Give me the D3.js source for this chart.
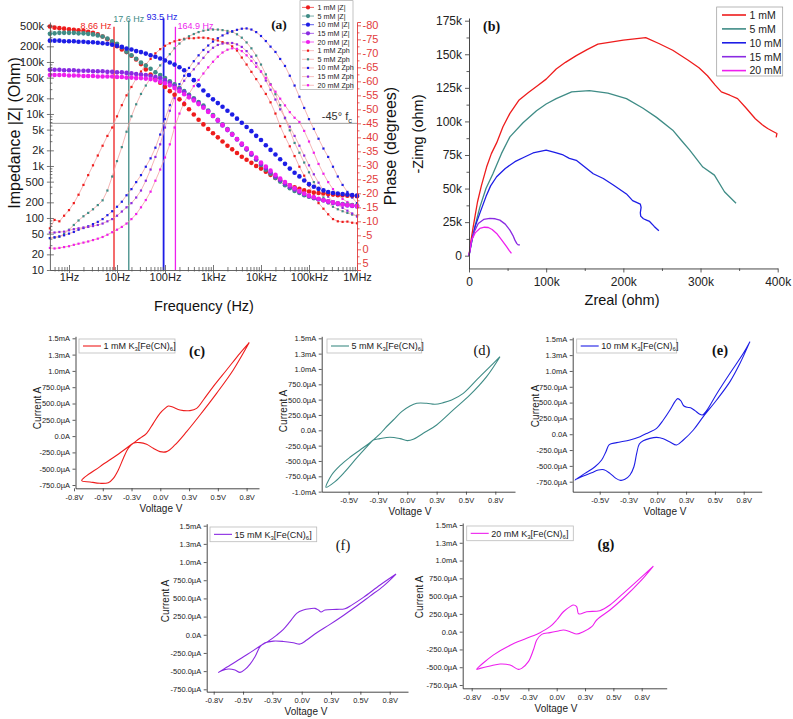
<!DOCTYPE html>
<html><head><meta charset="utf-8">
<script src="https://cdn.jsdelivr.net/npm/d3@7"></script>
<style>html,body{margin:0;padding:0;background:#fff}svg{display:block}</style>
</head><body>
<svg id="fig" width="793" height="719" xmlns="http://www.w3.org/2000/svg"></svg>
<script>
// ================= DATA =================
const concLabels = ["1 mM", "5 mM", "10 mM", "15 mM", "20 mM"];

// ---- (a) Bode plot ----
const freqHz = [0.4,0.5,0.63,0.79,
 1,1.26,1.58,2,2.51,3.16,3.98,5.01,6.31,7.94,
 10,12.6,15.8,20,25.1,31.6,39.8,50.1,63.1,79.4,
 100,126,158,200,251,316,398,501,631,794,
 1000,1260,1580,2000,2510,3160,3980,5010,6310,7940,
 10000,12600,15800,20000,25100,31600,39800,50100,63100,79400,
 100000,126000,158000,200000,251000,316000,398000,501000,631000,794000,
 1000000];

const zMag1mM = [480000,457000,447000,437000,427000,417000,407000,398000,380000,363000,
 339000,309000,275000,240000,200000,174000,155000,132000,112000,91000,
 72000,57500,47900,39800,33100,27500,23400,19100,15500,12300,
 9770,7760,6310,5130,4270,3550,2950,2450,2090,1780,
 1510,1320,1150,1000,891,776,676,589,525,468,
 427,389,363,339,324,309,302,295,288,282,
 275,275,269,269,263];
const zMag5mM = [347000,355000,363000,363000,363000,363000,355000,355000,347000,339000,
 324000,309000,282000,251000,224000,191000,158000,135000,115000,97700,
 85100,74100,63100,56200,49000,42700,37200,31600,27500,23400,
 20000,17000,14500,11700,9550,7760,6310,5130,4170,3310,
 2630,2090,1660,1320,1050,851,708,589,501,427,
 372,331,302,275,257,240,229,219,209,200,
 191,186,182,178,174];
const zMag10mM = [257000,257000,257000,251000,251000,251000,245000,245000,240000,240000,
 234000,229000,224000,214000,204000,195000,182000,174000,162000,155000,
 145000,135000,126000,117000,107000,97700,89100,79400,69200,56200,
 44700,35500,28200,22900,19100,16200,13800,11500,9770,8130,
 6760,5620,4680,3800,3160,2510,2040,1660,1350,1100,
 891,741,631,525,447,398,363,339,316,302,
 295,288,282,275,269];
const zMag15mM = [70800,70800,70800,69200,69200,69200,67600,67600,67600,66100,
 66100,66100,64600,64600,63100,63100,61700,60300,58900,57500,
 56200,53700,51300,49000,44700,39800,34700,30200,26300,22400,
 19100,16200,13800,11200,9120,7410,6030,4900,3980,3240,
 2570,2090,1660,1350,1100,912,759,631,537,457,
 398,355,316,288,263,245,229,219,204,195,
 186,182,174,170,166];
const zMag20mM = [56200,56200,56200,56200,55000,55000,55000,53700,53700,53700,
 52500,52500,52500,52500,51300,51300,50100,50100,49000,49000,
 47900,46800,44700,41700,38900,35500,31600,27500,24000,20900,
 18200,15500,13200,11000,9120,7590,6170,5010,4070,3310,
 2690,2190,1780,1450,1170,977,813,676,575,490,
 427,372,331,295,269,251,234,219,209,200,
 191,182,178,174,170];

const zPh1mM = [-7.5,-10.5,-10,-12,-14,-16.5,-19.5,-23,-26.5,-30,
 -33.5,-37,-40.5,-43.5,-47.5,-51.5,-55,-58,-61,-63.5,
 -66,-68,-70,-71.5,-72.7,-73.6,-74.3,-74.8,-75.2,-75.4,
 -75.4,-75.6,-75.6,-75.4,-75,-74.6,-74,-73.6,-72.5,-71,
 -68.5,-66,-63.4,-60.8,-58.2,-55.5,-52.5,-48.5,-44,-40.2,
 -36.8,-33.3,-29.5,-26.3,-22.8,-19.2,-16.5,-14.5,-12.5,-10.8,
 -10,-9.8,-9.9,-9.5,-9.3];
const zPh5mM = [-4,-4.2,-4.5,-5.5,-7,-8.7,-10.3,-11.8,-13,-14.3,
 -15.8,-17.5,-21,-26,-31.5,-36.5,-42,-47.5,-51.8,-55.5,
 -58.5,-61.2,-63.5,-65.7,-67.7,-69.7,-71.8,-73.5,-75,-76.1,
 -76.9,-77.6,-78.1,-78.4,-78.5,-78.5,-78.3,-78,-77.7,-76.8,
 -75.6,-73.9,-71.8,-69.2,-66,-62.5,-59,-55.4,-51.5,-46.8,
 -42.5,-38,-34.5,-31,-27.5,-24,-21,-18.5,-16.4,-15.2,
 -14.3,-13.6,-13,-12.4,-12];
const zPh10mM = [-4,-4.3,-4.6,-5,-5.6,-6.2,-7,-7.6,-8.2,-9,
 -9.8,-10.8,-12.2,-13.6,-15.2,-17,-19.3,-21.5,-24,-26.5,
 -29.5,-32.5,-36.3,-41,-46.5,-51.5,-55.5,-59,-62,-64.8,
 -67.2,-69.3,-71.2,-72.8,-74.2,-75.4,-76.4,-77.2,-77.9,-78.4,
 -78.8,-78.9,-78.5,-77.6,-76.2,-74.4,-72.4,-70.5,-68,-65.5,
 -62,-58.5,-54.5,-50.5,-46.5,-43,-39.5,-36,-33,-29.5,
 -26,-23,-20.5,-18.5,-16.5];
const zPh15mM = [-6,-6,-6.2,-6.3,-6.8,-7.2,-7.5,-7.8,-8,-8.3,
 -8.7,-9.2,-10,-10.8,-12,-13.5,-15,-16.5,-18.5,-21,
 -24.5,-28.5,-33,-37.5,-43.5,-49.5,-54,-57.5,-60.2,-62.5,
 -64.3,-66.4,-68.4,-70.5,-72,-73,-73.5,-73.7,-73.7,-73.2,
 -72.3,-70.8,-68.8,-66.5,-63.5,-60.3,-57,-53.5,-50,-47,
 -43.8,-40.5,-37,-33.5,-30,-26.8,-23.8,-21,-18.8,-17,
 -15.8,-14.8,-13.8,-12.8,-11.7];
const zPh20mM = [-0.5,-0.3,-0.5,-0.8,-1.1,-1.6,-2,-2.4,-2.8,-3.3,
 -3.8,-4.4,-5.2,-6.1,-7,-8,-9.2,-10.8,-12.6,-15,
 -17.6,-20.6,-24.5,-28.5,-32.8,-37.5,-43.5,-48.5,-52.5,-55.5,
 -58.3,-60.5,-62.8,-65,-67,-68.8,-70.3,-71.3,-71.8,-71.6,
 -70.8,-69.3,-67.3,-65.2,-63.5,-61.2,-58.8,-56.3,-53.8,-51.4,
 -49,-47,-45.5,-42.3,-38.5,-34.5,-30.5,-27,-24,-21.5,
 -19.5,-18,-16.9,-16,-15.2];

const fcHz = [8.66, 17.6, 93.5, 164.9];
const fcLabels = ["8.66 Hz", "17.6 Hz", "93.5 Hz", "164.9 Hz"];
const fcPhaseDeg = -45;

const freqTickValues = [1, 10, 100, 1000, 10000, 100000, 1000000];
const freqTickLabels = ["1Hz", "10Hz", "100Hz", "1kHz", "10kHz", "100kHz", "1MHz"];
const zTickValues = [10,20,50,100,200,500,1000,2000,5000,10000,20000,50000,100000,200000,500000];
const zTickLabels = ["10","20","50","100","200","500","1k","2k","5k","10k","20k","50k","100k","200k","500k"];
const phaseTickValues = [5,0,-5,-10,-15,-20,-25,-30,-35,-40,-45,-50,-55,-60,-65,-70,-75,-80];

// ---- (b) Nyquist plot: [Zreal (ohm), -Zimg (ohm)] ----
const nyquist1mM = [[0,0],[2200,10000],[5000,20000],[8000,30000],[11000,40000],[16000,52000],[22800,66000],[29000,76000],[35800,84000],[44000,96000],[53000,106000],[65000,116000],[77000,121500],[89600,127000],[100000,131500],[113000,139000],[125000,144000],[139000,149000],[153000,153500],[167000,157500],[200000,160500],[229000,162400],[246000,158000],[264000,153000],[284000,145600],[298000,140000],[309000,134000],[319000,127000],[327000,122000],[338000,119500],[348000,117000],[359000,110000],[371000,102000],[380000,97500],[387000,94700],[394000,92500],[399000,91000],[398000,88200]];
const nyquist5mM = [[0,0],[5000,15000],[10000,27000],[14000,36000],[22000,50000],[31000,61000],[42000,76000],[53000,88500],[70000,99000],[87500,108000],[100000,113000],[113000,117000],[133000,122000],[156000,123000],[180000,121000],[204000,117000],[225000,110000],[243000,103000],[264000,93500],[275000,86000],[286000,78600],[303000,66000],[318000,60000],[331000,47600],[346000,39000]];
const nyquist10mM = [[0,0],[4000,12000],[8000,22000],[14000,31500],[22000,44000],[28000,52000],[35800,58800],[47000,65000],[59500,70000],[72000,73500],[83000,76500],[100000,78600],[111000,77000],[122000,75000],[130000,72500],[139000,71000],[150000,66000],[161000,61000],[174000,57500],[187000,52600],[204000,46000],[212000,41000],[222000,38400],[223000,36000],[222000,32000],[222500,29500],[226000,27500],[230000,26500],[234000,25500],[240000,21800],[246000,18600]];
const nyquist15mM = [[0,0],[3400,11600],[7000,18000],[12000,24000],[19000,27000],[27000,27800],[34000,27500],[40000,26500],[47000,23500],[53000,19000],[57000,15000],[59500,11600],[62000,9000],[64000,8000],[66000,8000]];
const nyquist20mM = [[0,0],[3400,11600],[8000,17000],[14000,20300],[20000,21200],[25000,21000],[30000,19500],[35800,16600],[42000,12000],[48700,6700],[52000,4000],[55000,1700]];
const zRealTicks = [0, 100000, 200000, 300000, 400000];
const zRealTickLabels = ["0", "100k", "200k", "300k", "400k"];
const zImgTicks = [0, 25000, 50000, 75000, 100000, 125000, 150000, 175000];
const zImgTickLabels = ["0", "25k", "50k", "75k", "100k", "125k", "150k", "175k"];

// ---- (c)-(g) cyclic voltammograms: [Voltage (V), Current (mA)] ----
const cv1mM = [[0.773,1.434],[0.634,1.014],[0.489,0.656],[0.345,0.324],[0.229,0.069],[0.127,-0.136],[0.055,-0.238],[-0.003,-0.238],[-0.061,-0.187],[-0.119,-0.126],[-0.177,-0.100],[-0.235,-0.110],[-0.278,-0.187],[-0.321,-0.340],[-0.365,-0.519],[-0.408,-0.647],[-0.452,-0.714],[-0.524,-0.724],[-0.611,-0.703],[-0.683,-0.683],[-0.524,-0.468],[-0.379,-0.294],[-0.249,-0.126],[-0.177,-0.034],[-0.119,0.043],[-0.061,0.196],[-0.003,0.350],[0.041,0.426],[0.070,0.462],[0.113,0.442],[0.171,0.401],[0.258,0.391],[0.316,0.426],[0.374,0.554],[0.460,0.759],[0.576,1.014],[0.692,1.270],[0.773,1.434]];
const cv5mM = [[0.79,1.20],[0.676,0.875],[0.534,0.576],[0.392,0.332],[0.25,0.087],[0.136,-0.049],[0.051,-0.147],[0,-0.168],[-0.063,-0.136],[-0.148,-0.114],[-0.233,-0.136],[-0.29,-0.158],[-0.318,-0.212],[-0.375,-0.332],[-0.446,-0.484],[-0.531,-0.674],[-0.616,-0.837],[-0.693,-0.929],[-0.645,-0.728],[-0.574,-0.576],[-0.489,-0.44],[-0.403,-0.321],[-0.332,-0.223],[-0.29,-0.158],[-0.233,-0.06],[-0.19,0.033],[-0.119,0.168],[-0.048,0.304],[0.023,0.397],[0.08,0.44],[0.165,0.44],[0.236,0.424],[0.307,0.451],[0.378,0.495],[0.477,0.603],[0.591,0.821],[0.705,1.038],[0.79,1.20]];
const cv10mM = [[0.804,1.463],[0.718,1.121],[0.631,0.831],[0.515,0.541],[0.399,0.278],[0.313,0.067],[0.226,-0.091],[0.168,-0.170],[0.110,-0.123],[0.052,-0.070],[-0.006,-0.049],[-0.064,-0.065],[-0.122,-0.102],[-0.156,-0.154],[-0.179,-0.302],[-0.203,-0.513],[-0.237,-0.644],[-0.281,-0.713],[-0.318,-0.729],[-0.359,-0.697],[-0.411,-0.618],[-0.463,-0.560],[-0.512,-0.565],[-0.570,-0.608],[-0.642,-0.660],[-0.706,-0.713],[-0.715,-0.723],[-0.628,-0.618],[-0.541,-0.513],[-0.483,-0.407],[-0.446,-0.276],[-0.417,-0.165],[-0.353,-0.133],[-0.237,-0.091],[-0.150,-0.038],[-0.078,0.025],[-0.006,0.093],[0.052,0.225],[0.110,0.383],[0.153,0.515],[0.177,0.562],[0.203,0.531],[0.231,0.446],[0.260,0.425],[0.289,0.420],[0.327,0.373],[0.365,0.320],[0.391,0.304],[0.428,0.373],[0.515,0.636],[0.631,0.963],[0.747,1.279],[0.804,1.463]];
const cv15mM = [[0.804,0.835],[0.696,0.67],[0.582,0.532],[0.469,0.395],[0.355,0.266],[0.241,0.143],[0.128,0.028],[0.043,-0.073],[-0.014,-0.128],[-0.071,-0.11],[-0.156,-0.092],[-0.241,-0.087],[-0.313,-0.11],[-0.355,-0.165],[-0.398,-0.302],[-0.44,-0.403],[-0.483,-0.476],[-0.526,-0.517],[-0.568,-0.485],[-0.625,-0.471],[-0.682,-0.494],[-0.71,-0.517],[-0.611,-0.42],[-0.526,-0.333],[-0.44,-0.246],[-0.355,-0.155],[-0.284,-0.087],[-0.213,-0.004],[-0.156,0.074],[-0.1,0.18],[-0.043,0.295],[0.014,0.34],[0.071,0.358],[0.114,0.363],[0.142,0.34],[0.165,0.313],[0.199,0.34],[0.298,0.349],[0.369,0.358],[0.426,0.408],[0.526,0.514],[0.668,0.684],[0.804,0.835]];
const cv20mM = [[0.853,0.923],[0.735,0.703],[0.588,0.47],[0.47,0.305],[0.353,0.164],[0.309,0.07],[0.235,0.0],[0.176,-0.033],[0.118,0.0],[0.059,0.023],[0.015,0.01],[-0.059,-0.014],[-0.132,-0.038],[-0.176,-0.117],[-0.206,-0.258],[-0.25,-0.422],[-0.309,-0.516],[-0.338,-0.53],[-0.412,-0.469],[-0.5,-0.455],[-0.588,-0.483],[-0.676,-0.516],[-0.706,-0.53],[-0.56,-0.33],[-0.41,-0.19],[-0.265,-0.094],[-0.147,-0.014],[-0.059,0.07],[0,0.164],[0.059,0.28],[0.118,0.352],[0.147,0.375],[0.176,0.352],[0.19,0.258],[0.206,0.248],[0.265,0.28],[0.38,0.295],[0.47,0.375],[0.588,0.539],[0.735,0.75],[0.853,0.923]];
const voltTickValues = [-0.75, -0.5, -0.25, 0, 0.25, 0.5, 0.75];
const voltTickLabels = ["-0.8V", "-0.5V", "-0.3V", "0.0V", "0.3V", "0.5V", "0.8V"];
const currTickValues = [-1.0, -0.75, -0.5, -0.25, 0, 0.25, 0.5, 0.75, 1.0, 1.25, 1.5];
const currTickLabels = ["-1.0mA", "-750.0µA", "-500.0µA", "-250.0µA", "0.0A", "250.0µA", "500.0µA", "750.0µA", "1.0mA", "1.3mA", "1.5mA"];

// ================= RENDER =================
const SANS = '"Liberation Sans", Arial, Helvetica, sans-serif';
const SERIF = '"Liberation Serif", "Times New Roman", Times, serif';
const colors = ["#ee1c1c", "#3f8c86", "#1d1de6", "#8a2be2", "#ee1fee"];
const phaseLine = "#f3a2a2";
const svg = d3.select("#fig");
svg.append("rect").attr("width", 793).attr("height", 719).attr("fill", "#fff");

function styleAxis(sel, color, size, textColor) {
  sel.attr("font-family", SANS).attr("font-size", size);
  sel.select(".domain").attr("stroke", color).attr("stroke-width", 0.9);
  sel.selectAll(".tick line").attr("stroke", color).attr("stroke-width", 0.8);
  sel.selectAll(".tick text").attr("fill", textColor || "#222");
}
function minorAxis(g, axis, color, transform) {
  const s = g.append("g").attr("transform", transform).call(axis);
  s.select(".domain").remove();
  s.selectAll(".tick line").attr("stroke", color).attr("stroke-width", 0.8);
  s.selectAll(".tick text").remove();
}

// ---------- Panel (a) ----------
(function panelA() {
  const g = svg.append("g");
  const x = d3.scaleLog().domain([0.4, 1e6]).range([49.9, 357]);
  const yZ = d3.scaleLog().domain([10, 587000]).range([270, 22]);
  const yP = d3.scaleLinear().domain([7.39, -81.2]).range([270, 22]);

  // characteristic frequency lines
  const fcColors = [colors[0], colors[1], colors[2], colors[4]];
  const fcAnchor = ["end", "middle", "middle", "start"];
  const fcDx = [-2.5, 0, -1.5, 2];
  const fcBase = [28.8, 22.4, 20.4, 28.8];
  fcHz.forEach((f, k) => {
    g.append("line").attr("x1", x(f)).attr("x2", x(f)).attr("y1", fcBase[k] - 2).attr("y2", 270)
      .attr("stroke", fcColors[k]).attr("stroke-width", k === 2 ? 1.8 : 1.3);
    g.append("text").attr("x", x(f) + fcDx[k]).attr("y", fcBase[k]).attr("text-anchor", fcAnchor[k])
      .attr("font-family", SANS).attr("font-size", 9).attr("fill", fcColors[k]).text(fcLabels[k]);
  });
  // -45 deg line
  g.append("line").attr("x1", x(0.4)).attr("x2", x(1e6)).attr("y1", yP(fcPhaseDeg)).attr("y2", yP(fcPhaseDeg))
    .attr("stroke", "#8f8f8f").attr("stroke-width", 0.9);
  const t45 = g.append("text").attr("x", 352).attr("y", yP(fcPhaseDeg) - 3).attr("text-anchor", "end")
    .attr("font-family", SANS).attr("font-size", 11).attr("fill", "#333");
  t45.append("tspan").text("-45° f");
  t45.append("tspan").attr("font-size", 7.5).attr("dy", 2.5).text("c");

  const phases = [zPh1mM, zPh5mM, zPh10mM, zPh15mM, zPh20mM];
  const mags = [zMag1mM, zMag5mM, zMag10mM, zMag15mM, zMag20mM];
  phases.forEach((arr, k) => {
    const pts = freqHz.map((f, i) => [f, arr[i]]).filter(d => d[1] !== undefined);
    g.append("path").datum(pts).attr("fill", "none").attr("stroke", phaseLine).attr("stroke-width", 0.8)
      .attr("d", d3.line().x(d => x(d[0])).y(d => yP(d[1])));
    g.append("g").selectAll("rect").data(pts).enter().append("rect")
      .attr("x", d => x(d[0]) - 1.1).attr("y", d => yP(d[1]) - 1.1).attr("width", 2.2).attr("height", 2.2)
      .attr("fill", colors[k]);
  });
  mags.forEach((arr, k) => {
    const pts = freqHz.map((f, i) => [f, arr[i]]).filter(d => d[1] !== undefined);
    g.append("g").selectAll("circle").data(pts).enter().append("circle")
      .attr("cx", d => x(d[0])).attr("cy", d => yZ(d[1])).attr("r", 2.3).attr("fill", colors[k]);
  });

  // bottom axis
  const xMinor = [];
  [0.5, 0.6, 0.7, 0.8, 0.9].forEach(v => xMinor.push(v));
  for (let e = 0; e < 6; e++) for (let m = 2; m <= 9; m++) xMinor.push(m * Math.pow(10, e));
  const gb = g.append("g").attr("transform", "translate(0,270)")
    .call(d3.axisBottom(x).tickValues(freqTickValues).tickSizeInner(-5).tickSizeOuter(0).tickPadding(3)
      .tickFormat((d, i) => freqTickLabels[i]));
  styleAxis(gb, "#555", 11);
  minorAxis(g, d3.axisBottom(x).tickValues(freqTickValues).tickSize(3).tickFormat(""), "#555", "translate(0,270)");
  minorAxis(g, d3.axisBottom(x).tickValues(xMinor).tickSizeInner(-3).tickSizeOuter(0).tickFormat(""), "#555", "translate(0,270)");
  minorAxis(g, d3.axisBottom(x).tickValues(xMinor).tickSize(1.5).tickFormat(""), "#555", "translate(0,270)");

  // left axis
  const zMinor = [];
  for (let e = 1; e < 6; e++) [3, 4, 6, 7, 8, 9].forEach(m => zMinor.push(m * Math.pow(10, e)));
  const gl = g.append("g").attr("transform", "translate(49.9,0)")
    .call(d3.axisLeft(yZ).tickValues(zTickValues).tickSizeInner(-4).tickSizeOuter(0).tickPadding(6)
      .tickFormat((d, i) => zTickLabels[i]));
  styleAxis(gl, "#555", 11);
  minorAxis(g, d3.axisLeft(yZ).tickValues(zTickValues).tickSize(3).tickFormat(""), "#555", "translate(49.9,0)");
  minorAxis(g, d3.axisLeft(yZ).tickValues(zMinor.filter(v => v < 587000)).tickSizeInner(-2.5).tickSizeOuter(0).tickFormat(""), "#555", "translate(49.9,0)");

  // right axis (phase)
  const pMinor = [];
  for (let v = 2.5; v >= -77.5; v -= 5) pMinor.push(v);
  const red = "#e23b3b";
  const gr = g.append("g").attr("transform", "translate(357,0)")
    .call(d3.axisRight(yP).tickValues(phaseTickValues).tickSize(4).tickPadding(1.5).tickFormat(d => String(d)));
  styleAxis(gr, red, 11, red);
  minorAxis(g, d3.axisRight(yP).tickValues(pMinor).tickSize(2.5).tickFormat(""), red, "translate(357,0)");

  // titles
  g.append("text").attr("transform", "translate(19.5,133) rotate(-90)").attr("text-anchor", "middle")
    .attr("font-family", SANS).attr("font-size", 16).attr("fill", "#111").text("Impedance |Z| (Ohm)");
  g.append("text").attr("transform", "translate(396,146) rotate(-90)").attr("text-anchor", "middle")
    .attr("font-family", SANS).attr("font-size", 16).attr("fill", "#111").text("Phase (degrees)");
  g.append("text").attr("x", 204).attr("y", 311).attr("text-anchor", "middle")
    .attr("font-family", SANS).attr("font-size", 14.5).attr("fill", "#111").text("Frequency (Hz)");
  g.append("text").attr("x", 279).attr("y", 29).attr("text-anchor", "middle")
    .attr("font-family", SERIF).attr("font-weight", "bold").attr("font-size", 13.5).attr("fill", "#111").text("(a)");

  // legend
  const lg = g.append("g");
  lg.append("rect").attr("x", 300).attr("y", 0.7).attr("width", 53).attr("height", 88.6)
    .attr("fill", "#fff").attr("stroke", "#9a9a9a").attr("stroke-width", 0.6);
  const rows = concLabels.map((c, k) => ({ t: c + " |Z|", k, ph: false }))
    .concat(concLabels.map((c, k) => ({ t: c + " Zph", k, ph: true })));
  rows.forEach((r, j) => {
    const yy = 7.4 + j * 8.65;
    lg.append("line").attr("x1", 302).attr("x2", 314).attr("y1", yy).attr("y2", yy)
      .attr("stroke", r.ph ? phaseLine : colors[r.k]).attr("stroke-width", 0.7);
    if (r.ph) lg.append("rect").attr("x", 306.9).attr("y", yy - 1.1).attr("width", 2.2).attr("height", 2.2).attr("fill", colors[r.k]);
    else lg.append("circle").attr("cx", 308).attr("cy", yy).attr("r", 2.1).attr("fill", colors[r.k]);
    lg.append("text").attr("x", 317.5).attr("y", yy + 2.5).attr("font-family", SANS).attr("font-size", 7.2)
      .attr("fill", "#222").text(r.t);
  });
})();

// ---------- Panel (b) ----------
(function panelB() {
  const g = svg.append("g");
  const x = d3.scaleLinear().domain([0, 400000]).range([469, 777.7]);
  const y = d3.scaleLinear().domain([-9500, 177000]).range([268.46, 18.01]);
  const series = [nyquist1mM, nyquist5mM, nyquist10mM, nyquist15mM, nyquist20mM];
  const line = d3.line().x(d => x(d[0])).y(d => y(d[1]));
  series.forEach((s, k) => {
    g.append("path").datum(s).attr("fill", "none").attr("stroke", colors[k]).attr("stroke-width", 1.3)
      .attr("stroke-linejoin", "round").attr("d", line);
  });
  const gl = g.append("g").attr("transform", "translate(469,0)")
    .call(d3.axisLeft(y).tickValues(zImgTicks).tickSize(4).tickSizeOuter(0).tickPadding(3)
      .tickFormat((d, i) => zImgTickLabels[i]));
  styleAxis(gl, "#333", 12);
  const gb = g.append("g").attr("transform", "translate(0,268.46)")
    .call(d3.axisBottom(x).tickValues(zRealTicks).tickSize(4).tickSizeOuter(0).tickPadding(5)
      .tickFormat((d, i) => zRealTickLabels[i]));
  styleAxis(gb, "#333", 12);
  minorAxis(g, d3.axisBottom(x).tickValues([50000, 150000, 250000, 350000]).tickSize(2.5).tickFormat(""), "#333", "translate(0,268.46)");
  minorAxis(g, d3.axisLeft(y).tickValues([12500, 37500, 62500, 87500, 112500, 137500, 162500]).tickSize(2.5).tickFormat(""), "#333", "translate(469,0)");

  g.append("text").attr("x", 622).attr("y", 305).attr("text-anchor", "middle")
    .attr("font-family", SANS).attr("font-size", 14.5).attr("fill", "#111").text("Zreal (ohm)");
  g.append("text").attr("transform", "translate(422.5,134) rotate(-90)").attr("text-anchor", "middle")
    .attr("font-family", SANS).attr("font-size", 14.5).attr("fill", "#111").text("-Zimg (ohm)");
  g.append("text").attr("x", 483).attr("y", 31).attr("font-family", SERIF).attr("font-weight", "bold")
    .attr("font-size", 14).attr("fill", "#111").text("(b)");

  const lg = g.append("g");
  lg.append("rect").attr("x", 716.7).attr("y", 7).attr("width", 66).attr("height", 69)
    .attr("fill", "#fff").attr("stroke", "#999").attr("stroke-width", 0.7);
  concLabels.forEach((c, k) => {
    const yy = 15 + k * 13.9;
    lg.append("line").attr("x1", 722).attr("x2", 746).attr("y1", yy).attr("y2", yy)
      .attr("stroke", colors[k]).attr("stroke-width", 1.6);
    lg.append("text").attr("x", 749.5).attr("y", yy + 3.8).attr("font-family", SANS).attr("font-size", 10.5)
      .attr("fill", "#222").text(c);
  });
})();

// ---------- Panels (c)-(g) ----------
function cvPanel(cfg) {
  const g = svg.append("g");
  const x = d3.scaleLinear().domain([-0.75, 0.75]).range([cfg.vx0, cfg.vx1]);
  const y = d3.scaleLinear().domain([1.5, -0.75]).range([cfg.iy0, cfg.iy1]);
  const xa = d3.scaleLinear().domain([x.invert(cfg.axL), x.invert(cfg.axR)]).range([cfg.axL, cfg.axR]);
  const ya = d3.scaleLinear().domain([y.invert(cfg.axB), y.invert(cfg.iy0 - 2)]).range([cfg.axB, cfg.iy0 - 2]);

  g.append("path").datum(cfg.data).attr("fill", "none").attr("stroke", cfg.color).attr("stroke-width", 1.1)
    .attr("stroke-linejoin", "round")
    .attr("d", d3.line().curve(d3.curveCatmullRom.alpha(0.5)).x(d => x(d[0])).y(d => y(d[1])));

  const xt = cfg.xTicks;
  const gb = g.append("g").attr("transform", `translate(0,${cfg.axB})`)
    .call(d3.axisBottom(xa).tickValues(xt).tickSize(3).tickSizeOuter(0).tickPadding(3)
      .tickFormat(d => voltTickLabels[voltTickValues.indexOf(d)]));
  styleAxis(gb, "#333", 7.5);
  const yt = cfg.yTicks;
  const gl = g.append("g").attr("transform", `translate(${cfg.axL},0)`)
    .call(d3.axisLeft(ya).tickValues(yt).tickSize(3).tickSizeOuter(0).tickPadding(2.5)
      .tickFormat(d => currTickLabels[currTickValues.indexOf(d)]));
  styleAxis(gl, "#333", 7.5);

  g.append("text").attr("x", cfg.volX).attr("y", cfg.axB + 23.5).attr("text-anchor", "middle")
    .attr("font-family", SANS).attr("font-size", 10).attr("fill", "#222").text("Voltage V");
  g.append("text").attr("transform", `translate(${cfg.curX},${cfg.curY}) rotate(-90)`).attr("text-anchor", "middle")
    .attr("font-family", SANS).attr("font-size", 10).attr("fill", "#222").text("Current A");
  g.append("text").attr("x", cfg.lab[0]).attr("y", cfg.lab[1]).attr("text-anchor", "middle")
    .attr("font-family", SERIF).attr("font-weight", cfg.labBold ? "bold" : "normal").attr("font-size", 14.5)
    .attr("fill", "#111").text(cfg.label);

  const b = cfg.leg;
  g.append("rect").attr("x", b[0]).attr("y", b[1]).attr("width", b[2]).attr("height", b[3])
    .attr("fill", "#fff").attr("stroke", "#bbb").attr("stroke-width", 0.8);
  const ly = b[1] + b[3] / 2;
  g.append("line").attr("x1", b[0] + 4).attr("x2", b[0] + 22).attr("y1", ly).attr("y2", ly)
    .attr("stroke", cfg.color).attr("stroke-width", 1.1);
  const t = g.append("text").attr("x", b[0] + 24.5).attr("y", ly + 3.2).attr("font-family", SANS)
    .attr("font-size", 9).attr("fill", "#222");
  t.append("tspan").text(cfg.conc + " K");
  t.append("tspan").attr("font-size", 6).attr("dy", 2.2).text("3");
  t.append("tspan").attr("dy", -2.2).text("[Fe(CN)");
  t.append("tspan").attr("font-size", 6).attr("dy", 2.2).text("6");
  t.append("tspan").attr("dy", -2.2).text("]");
}

const yStd = [-0.75, -0.5, -0.25, 0, 0.25, 0.5, 0.75, 1.0, 1.25, 1.5];
cvPanel({ data: cv1mM, color: colors[0], conc: concLabels[0], label: "(c)", labBold: true,
  vx0: 74.0, vx1: 246.6, iy0: 338.3, iy1: 485, axL: 75.5, axR: 259, axB: 488.3,
  xTicks: voltTickValues, yTicks: yStd, volX: 161, curX: 41, curY: 408, lab: [197, 356], leg: [79, 339, 96, 14] });
cvPanel({ data: cv5mM, color: colors[1], conc: concLabels[1], label: "(d)", labBold: false,
  vx0: 319.3, vx1: 495.3, iy0: 338.3, iy1: 476.3, axL: 321.7, axR: 515, axB: 491.7,
  xTicks: voltTickValues.slice(1), yTicks: [-1.0].concat(yStd), volX: 410, curX: 286.5, curY: 411, lab: [482, 355], leg: [327, 339, 94.7, 14] });
cvPanel({ data: cv10mM, color: colors[2], conc: concLabels[2], label: "(e)", labBold: true,
  vx0: 570.9, vx1: 743.7, iy0: 339.3, iy1: 481.7, axL: 572.7, axR: 761.7, axB: 491.7,
  xTicks: voltTickValues.slice(1), yTicks: yStd, volX: 665, curX: 538.5, curY: 406, lab: [720, 355], leg: [576.7, 339, 100, 14] });
cvPanel({ data: cv15mM, color: colors[3], conc: concLabels[3], label: "(f)", labBold: false,
  vx0: 213.7, vx1: 389.7, iy0: 525.7, iy1: 689.3, axL: 206.7, axR: 408, axB: 691.7,
  xTicks: voltTickValues, yTicks: yStd, volX: 306, curX: 168.5, curY: 601, lab: [343, 550], leg: [210, 527, 106.7, 14.7] });
cvPanel({ data: cv20mM, color: colors[4], conc: concLabels[4], label: "(g)", labBold: true,
  vx0: 471.7, vx1: 641.7, iy0: 525, iy1: 685, axL: 462.7, axR: 666.7, axB: 688.3,
  xTicks: voltTickValues, yTicks: yStd, volX: 556, curX: 422.5, curY: 597, lab: [606, 549], leg: [466.7, 526, 106.6, 14.7] });
</script>
</body></html>
